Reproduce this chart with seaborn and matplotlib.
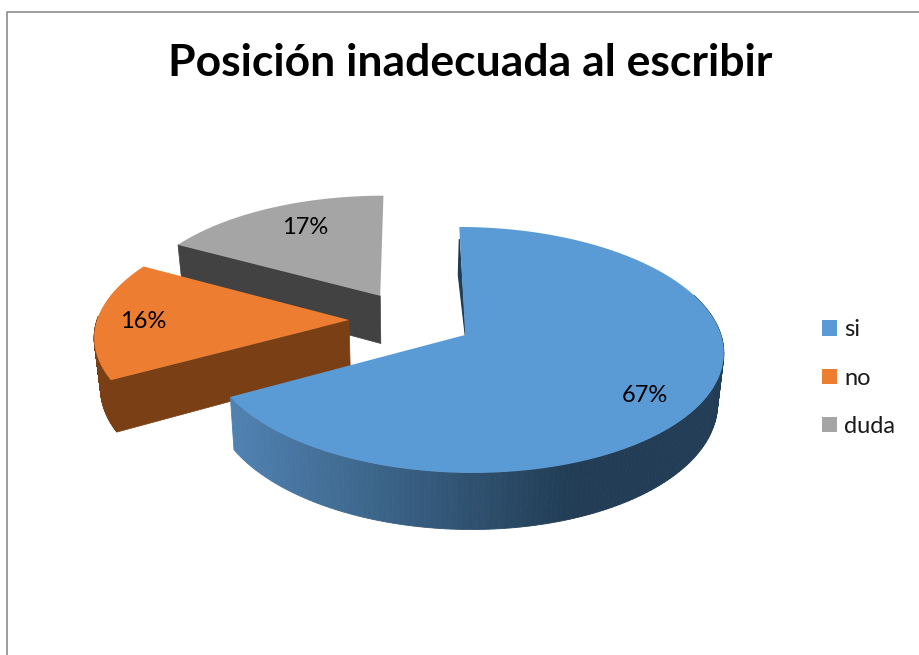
import numpy as np
import matplotlib
matplotlib.use("Agg")
import matplotlib.pyplot as plt
from matplotlib.patches import Patch
from matplotlib.colors import to_rgb
import seaborn as sns

labels = ['si', 'no', 'duda']
values = [67, 16, 17]
title = 'Posición inadecuada al escribir'

sns.set_theme(style='white')
plt.rcParams['font.family'] = ['Lato', 'DejaVu Sans']
colors = sns.color_palette(['#5B9BD5', '#ED7D31', '#A5A5A5'])

# projection of the tilted pie, in figure pixels
X0, Y0, SX, SY, PERSP = 411, 320, 252, 117.5, 0.12
EXPLODE, DEPTH, SHRINK = 0.246, 49, 0.98


def top(u, v):
    k = 1 + PERSP * v
    return X0 + SX * u / k, Y0 - SY * v / k


def bottom(u, v):
    x, y = top(u, v)
    return X0 + (x - X0) * SHRINK, y + DEPTH / (1 + PERSP * v)


def arc(start, end, n=160):
    return np.radians(np.linspace(start, end, n))


def offset(start, end):
    mid = np.radians((start + end) / 2)
    return EXPLODE * np.sin(mid), EXPLODE * np.cos(mid)


def wall(ax, a, b, color):
    # flat quad under one straight edge
    pts = [top(*a), top(*b), bottom(*b), bottom(*a)]
    ax.fill(*zip(*pts), color=color, lw=0.5, zorder=a_order[0])


def rim(ax, start, end, ou, ov, left, right, x_from, x_to):
    # outer curved side, cut in strips so the shade runs along x
    th = arc(start, end)
    c1, c2 = np.array(to_rgb(left)), np.array(to_rgb(right))
    for t1, t2 in zip(th[:-1], th[1:]):
        a = (ou + np.sin(t1), ov + np.cos(t1))
        b = (ou + np.sin(t2), ov + np.cos(t2))
        xm = (top(*a)[0] + top(*b)[0]) / 2
        f = np.clip((xm - x_from) / (x_to - x_from), 0, 1)
        pts = [top(*a), top(*b), bottom(*b), bottom(*a)]
        ax.fill(*zip(*pts), color=c1 + (c2 - c1) * f, lw=0.6, zorder=a_order[0])


def face(ax, start, end, ou, ov, color):
    th = arc(start, end)
    pts = [top(ou, ov)] + [top(ou + np.sin(t), ov + np.cos(t)) for t in th]
    ax.fill(*zip(*pts), color=color, lw=0, zorder=a_order[0] + 0.5)


fig = plt.figure(figsize=(9.2, 6.55), dpi=100)
ax = fig.add_axes([0, 0, 1, 1])
ax.set_xlim(0, 920)
ax.set_ylim(655, 0)
ax.axis('off')

ends = np.cumsum(values) / np.sum(values) * 360
starts = np.r_[0, ends[:-1]]
a_order = [1]

# gray slice, at the back
s, e = starts[2], ends[2]
ou, ov = offset(s, e)
a_order[0] = 1
wall(ax, (ou + np.sin(np.radians(s)), ov + np.cos(np.radians(s))), (ou, ov), '#424242')
face(ax, s, e, ou, ov, colors[2])

# orange slice
s, e = starts[1], ends[1]
ou, ov = offset(s, e)
a_order[0] = 2
rim(ax, s, 272, ou, ov, '#7A3F14', '#7A3F14', 0, 1)
wall(ax, (ou, ov), (ou + np.sin(np.radians(s)), ov + np.cos(np.radians(s))), '#7A3F14')
face(ax, s, e, ou, ov, colors[1])

# blue slice, in front
s, e = starts[0], ends[0]
ou, ov = offset(s, e)
a_order[0] = 3
rim(ax, 70, e, ou, ov, '#223D55', '#4F81B0', 570, 236)
tx, ty = top(ou, ov + 1)
ax.fill([tx, tx - 1, top(ou, ov)[0]], [ty + 12, ty + 48, top(ou, ov)[1]],
        color='#1F3C55', lw=0.8, zorder=3)
face(ax, s, e, ou, ov, colors[0])

# percent labels
label_xy = [(645, 395), (143, 322), (305, 227)]
for v, (x, y) in zip(values, label_xy):
    pct = round(v / np.sum(values) * 100)
    ax.text(x, y, f'{pct}%', ha='center', va='center', fontsize=17, color='black', zorder=5)

ax.text(470, 63, title, ha='center', va='center', fontsize=32, fontweight='bold', color='black')

handles = [Patch(facecolor=c, edgecolor='none') for c in colors]
ax.legend(handles, labels, loc='center left', bbox_to_anchor=(0.893, 0.4227), frameon=False,
          fontsize=17, handlelength=0.64, handleheight=0.64, handletextpad=0.32,
          labelspacing=1.15, borderpad=0, borderaxespad=0, labelcolor='#1a1a1a')

# chart frame, cut off by the page
ax.plot([7.5, 7.5, 920], [655, 11.5, 11.5], color='#8C8C8C', lw=1.2, zorder=0)

fig.savefig('out.png', dpi=100, facecolor='white')
